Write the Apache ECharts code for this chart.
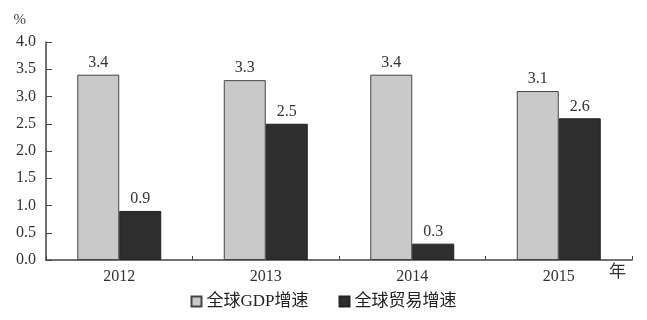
<!DOCTYPE html>
<html>
<head>
<meta charset="utf-8">
<script src="https://cdn.jsdelivr.net/npm/echarts@6/dist/echarts.min.js"></script>
<style>
  html, body { margin: 0; padding: 0; background: #fff; }
  #chart { width: 647px; height: 320px; }
</style>
</head>
<body>
<div id="chart"></div>
<script>
// Years along the x axis
const years = ['2012', '2013', '2014', '2015'];
// Growth rates in percent
const gdpGrowth = [3.4, 3.3, 3.4, 3.1];
const tradeGrowth = [0.9, 2.5, 0.3, 2.6];
// Y axis tick values
const yTicks = [0, 0.5, 1, 1.5, 2, 2.5, 3, 3.5, 4];

const serif = '"Liberation Serif", "Noto Sans CJK SC", serif';
const chart = echarts.init(document.getElementById('chart'));

chart.setOption({
  backgroundColor: '#fff',
  animation: false,
  textStyle: { fontFamily: serif },
  grid: { left: 46, right: 15, top: 42, bottom: 60 },
  legend: {
    bottom: 5,
    left: 'center',
    icon: 'rect',
    itemWidth: 10,
    itemHeight: 10,
    itemGap: 30,
    textStyle: { fontFamily: serif, fontSize: 17, color: '#222' },
    data: ['全球GDP增速', '全球贸易增速']
  },
  xAxis: {
    type: 'category',
    data: years,
    name: '年',
    nameLocation: 'end',
    nameGap: -23,
    nameTextStyle: { fontFamily: serif, fontSize: 17, color: '#333', verticalAlign: 'top', padding: [4, 0, 0, 0] },
    axisLine: { lineStyle: { color: '#444', width: 1.5 } },
    axisTick: { show: true, inside: true, length: 4, lineStyle: { color: '#444' } },
    axisLabel: { fontFamily: serif, fontSize: 16, color: '#333', margin: 9 }
  },
  yAxis: {
    type: 'value',
    min: yTicks[0],
    max: yTicks[yTicks.length - 1],
    interval: 0.5,
    name: '%',
    nameLocation: 'end',
    nameGap: 14,
    nameTextStyle: { fontFamily: serif, fontSize: 15, color: '#444', align: 'right', padding: [0, 20, 0, 0] },
    splitLine: { show: false },
    axisLine: { show: true, lineStyle: { color: '#444', width: 1.5 } },
    axisTick: { show: true, inside: true, length: 6, lineStyle: { color: '#444' } },
    axisLabel: {
      fontFamily: serif, fontSize: 16, color: '#333', margin: 10,
      formatter: v => v.toFixed(1)
    }
  },
  series: [
    {
      name: '全球GDP增速',
      type: 'bar',
      data: gdpGrowth,
      barWidth: 42,
      barGap: '0%',
      itemStyle: { color: '#c9c9c9', borderColor: '#444', borderWidth: 1 },
      label: { show: true, position: 'top', distance: 4, fontFamily: serif, fontSize: 16, color: '#333', formatter: p => p.value.toFixed(1) }
    },
    {
      name: '全球贸易增速',
      type: 'bar',
      data: tradeGrowth,
      barWidth: 42,
      itemStyle: { color: '#2e2e2e', borderColor: '#222', borderWidth: 1 },
      label: { show: true, position: 'top', distance: 4, fontFamily: serif, fontSize: 16, color: '#333', formatter: p => p.value.toFixed(1) }
    }
  ]
});
</script>
</body>
</html>
